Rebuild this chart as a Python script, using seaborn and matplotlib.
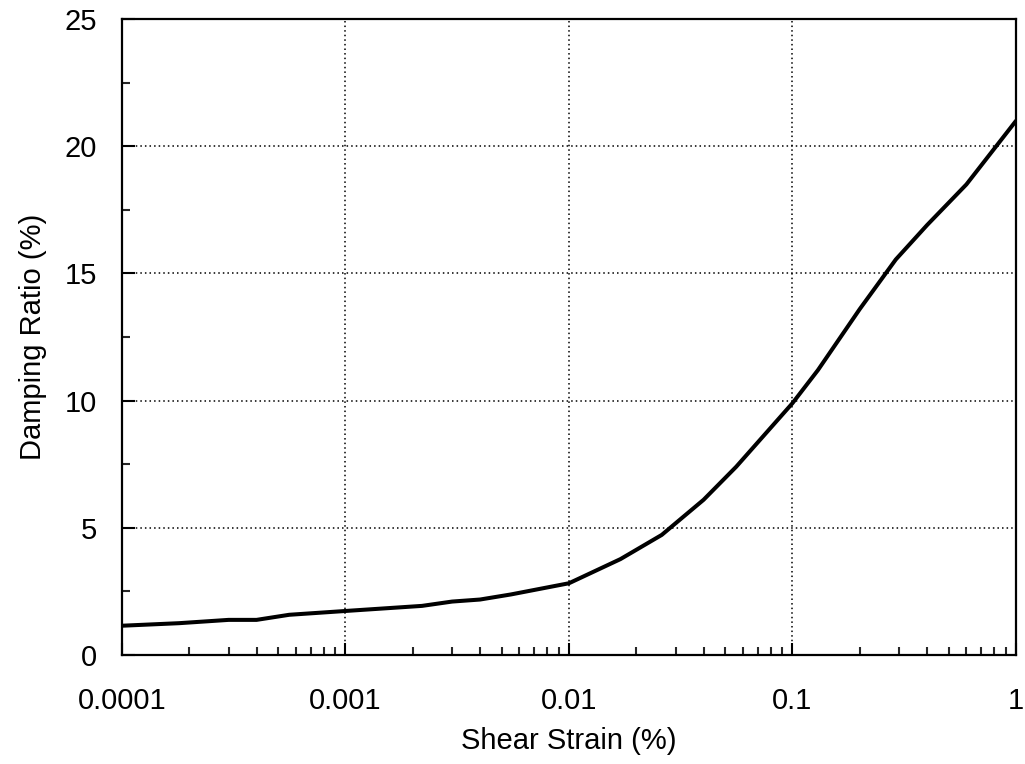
import numpy as np
import pandas as pd
import matplotlib
matplotlib.use("Agg")
import matplotlib.pyplot as plt
from matplotlib.ticker import FixedLocator, LogLocator, NullFormatter, MultipleLocator
import seaborn as sns

# Damping curve: shear strain (%) vs damping ratio (%)
shear_strain = [1e-4, 1.8e-4, 3e-4, 4e-4, 5.6e-4, 1e-3, 2.2e-3, 3e-3, 4e-3, 5.5e-3,
                1e-2, 1.7e-2, 2.6e-2, 4e-2, 5.6e-2, 0.1, 0.13, 0.2, 0.29, 0.4, 0.6, 1.0]
damping_ratio = [1.15, 1.25, 1.38, 1.38, 1.58, 1.73, 1.93, 2.1, 2.18, 2.38,
                 2.82, 3.77, 4.72, 6.1, 7.4, 9.9, 11.2, 13.6, 15.55, 16.9, 18.5, 21.0]
x_ticks = [1e-4, 1e-3, 1e-2, 1e-1, 1]
x_tick_labels = ["0.0001", "0.001", "0.01", "0.1", "1"]
y_ticks = [0, 5, 10, 15, 20, 25]

df = pd.DataFrame({"strain": shear_strain, "damping": damping_ratio})

sns.set_theme(style="white")
plt.rcParams["font.family"] = ["Liberation Sans", "DejaVu Sans"]

FS = 21

fig = plt.figure(figsize=(10.25, 7.64), dpi=100)
ax = fig.add_axes([0.119, 0.1427, 0.8722, 0.8323])

sns.lineplot(data=df, x="strain", y="damping", ax=ax, color="black",
             linewidth=2.9, estimator=None, sort=False)

ax.set_xscale("log")
ax.set_xlim(1e-4, 1)
ax.set_ylim(0, 25)

ax.xaxis.set_major_locator(FixedLocator(x_ticks))
ax.set_xticklabels(x_tick_labels)
ax.xaxis.set_minor_locator(LogLocator(base=10, subs=np.arange(2, 10)))
ax.xaxis.set_minor_formatter(NullFormatter())
ax.yaxis.set_major_locator(FixedLocator(y_ticks))
ax.yaxis.set_minor_locator(MultipleLocator(2.5))

ax.tick_params(axis="both", which="major", direction="in", length=9, width=1.5,
               labelsize=FS, colors="black", bottom=True, left=True,
               top=False, right=False)
ax.tick_params(axis="both", which="minor", direction="in", length=6, width=1.5,
               bottom=True, left=True, top=False, right=False)
ax.tick_params(axis="y", which="major", pad=18)
ax.tick_params(axis="x", which="major", pad=23)

# dotted grid on inner major ticks only
for xv in x_ticks[1:-1]:
    ax.axvline(xv, color="black", linestyle=(0, (1, 2)), linewidth=1.1, zorder=0)
for yv in y_ticks[1:-1]:
    ax.axhline(yv, color="black", linestyle=(0, (1, 2)), linewidth=1.1, zorder=0)

for side in ax.spines.values():
    side.set_visible(True)
    side.set_color("black")
    side.set_linewidth(1.6)

ax.set_xlabel("Shear Strain (%)", fontsize=FS, color="black", labelpad=9)
ax.set_ylabel("Damping Ratio (%)", fontsize=FS, color="black", labelpad=12.5)

fig.savefig("out.png", dpi=100, facecolor="white")
